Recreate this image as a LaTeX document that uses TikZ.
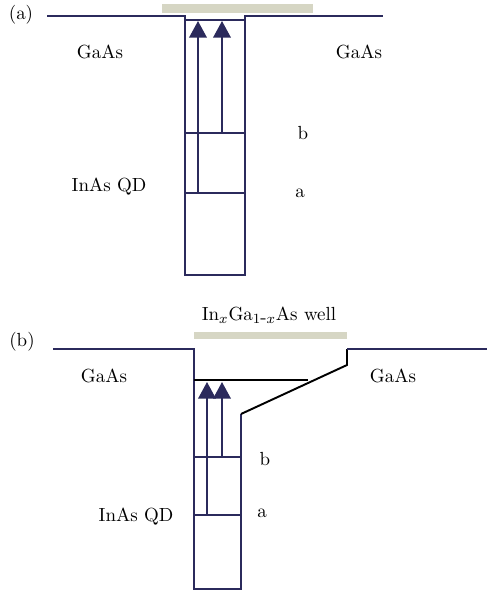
\documentclass[tikz,border=0pt]{standalone}
\usepackage{tikz}
\usetikzlibrary{arrows.meta}
\definecolor{cmarino}{HTML}{2B2A5C}
\definecolor{cbarra}{HTML}{D6D6C4}
\tikzset{
  banda/.style={draw=cmarino, line width=1.2pt, line join=miter},
  pozo/.style={draw=black, line width=1.1pt},
  nivel/.style={draw=cmarino, line width=1.1pt},
  barra/.style={fill=cbarra, draw=none},
  flecha/.style={-{Triangle[length=9.5pt,width=10pt]}, draw=cmarino, fill=cmarino, line width=1.1pt},
  etq/.style={font=\fontsize{10.8pt}{13pt}\selectfont, inner sep=0pt},
}

\begin{document}
\begin{tikzpicture}[x=0.02cm, y=-0.02cm]
  \useasboundingbox (0,0) rectangle (497,596);
  % (a) pozo del punto cuantico
  \fill[barra] (162,4) rectangle (313,13);
  \draw[banda] (47,16) -- (185,16) -- (185,275) -- (245,275) -- (245,16) -- (383,16);
  \draw[nivel] (185,20) -- (245,20);
  \coordinate (ab1) at (185,133); \coordinate (ab2) at (245,133);
  \coordinate (aa1) at (185,193); \coordinate (aa2) at (245,193);
  \draw[nivel] (ab1) -- (ab2);
  \draw[nivel] (aa1) -- (aa2);
  \coordinate (af1) at (198,193); \coordinate (at1) at (198,21);
  \coordinate (af2) at (222,133); \coordinate (at2) at (222,21);
  \draw[flecha] (af1) -- (at1);
  \draw[flecha] (af2) -- (at2);
  \node[etq] (pa) at (21,15) {(a)};
  \node[etq] (ga1) at (100,52) {GaAs};
  \node[etq] (ga2) at (359,52) {GaAs};
  \node[etq] (qda) at (109,187) {InAs QD};
  \node[etq] (lb) at (303,133) {b};
  \node[etq] (la) at (300,193) {a};

  % (b) con pozo de InGaAs
  \fill[barra] (194,332) rectangle (347,339);
  \node[etq] (wl) at (269,315) {In$_x$Ga$_{1\mbox{-}x}$As well};
  \draw[banda] (53,349) -- (194,349) -- (194,589) -- (241,589) -- (241,414);
  \draw[pozo] (241,414) -- (347,365) -- (347,349);
  \draw[banda] (347,349) -- (487,349);
  \draw[pozo] (194,380) -- (308,380);
  \coordinate (bb1) at (194,457); \coordinate (bb2) at (241,457);
  \coordinate (ba1) at (194,515); \coordinate (ba2) at (241,515);
  \draw[nivel] (bb1) -- (bb2);
  \draw[nivel] (ba1) -- (ba2);
  \coordinate (bf1) at (207,515); \coordinate (bt1) at (207,382);
  \coordinate (bf2) at (222,457); \coordinate (bt2) at (222,382);
  \draw[flecha] (bf1) -- (bt1);
  \draw[flecha] (bf2) -- (bt2);
  \node[etq] (pb) at (22,342) {(b)};
  \node[etq] (gb1) at (104,376) {GaAs};
  \node[etq] (gb2) at (393,376) {GaAs};
  \node[etq] (qdb) at (136,517) {InAs QD};
  \node[etq] (lbb) at (265,459) {b};
  \node[etq] (lab) at (262,513) {a};
\end{tikzpicture}
\end{document}
